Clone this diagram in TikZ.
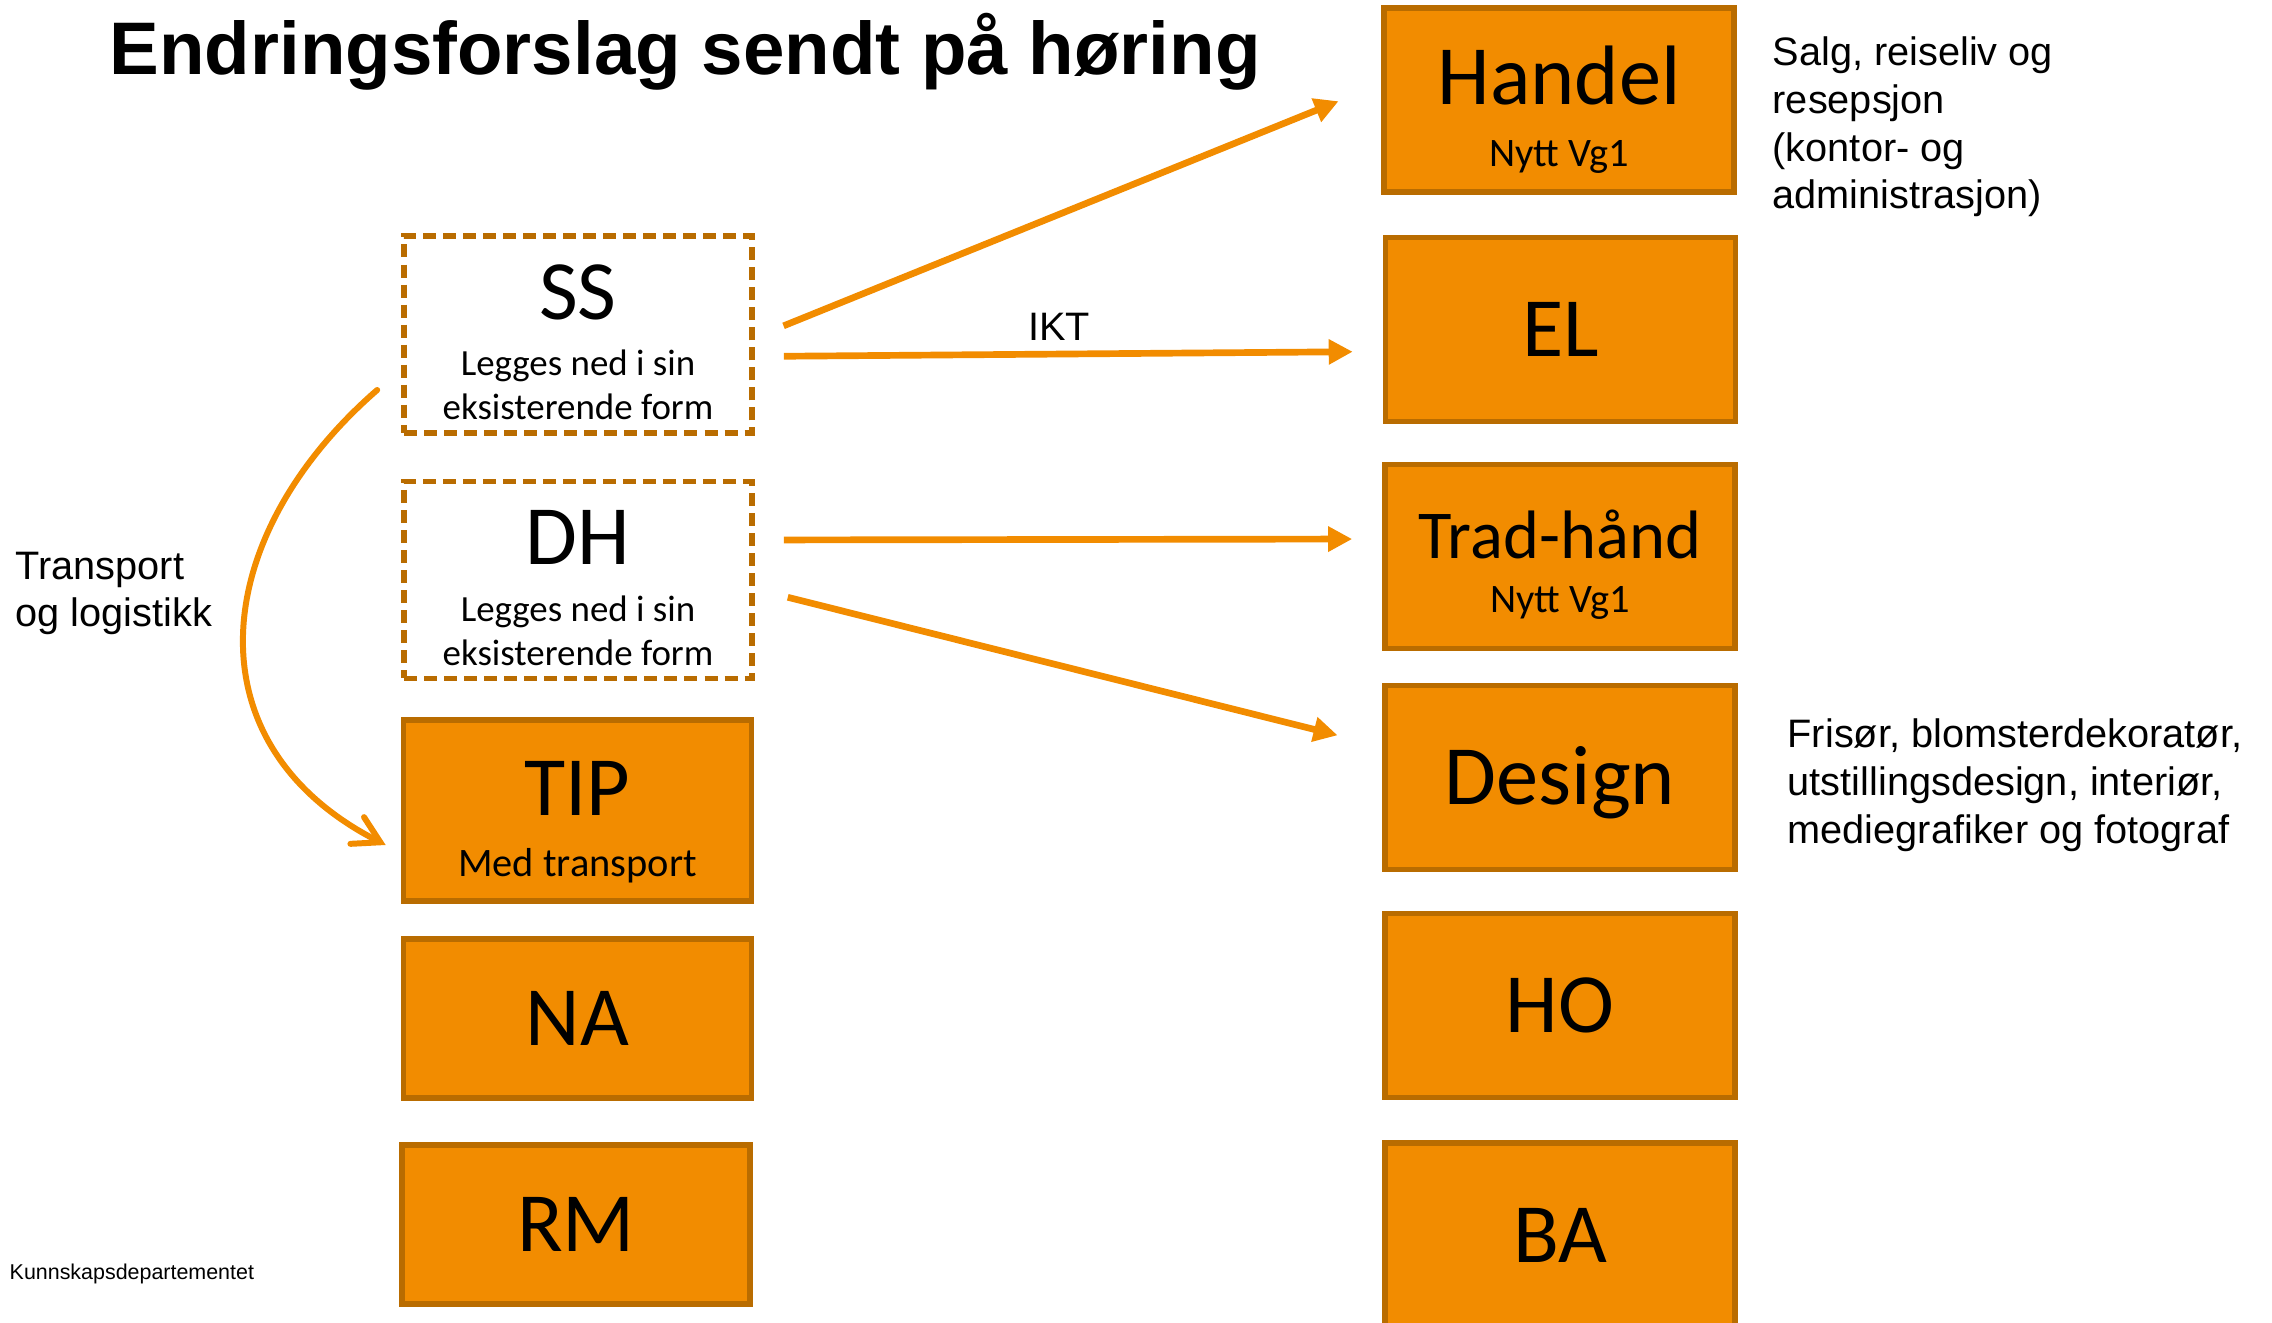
\documentclass[tikz,border=0pt]{standalone}
\usepackage{fontspec}
\setmainfont{Carlito}
\newfontfamily\arial{Liberation Sans}
\usetikzlibrary{arrows.meta}

\definecolor{oransje}{HTML}{F28C00}
\definecolor{kant}{HTML}{B96C00}

\newcommand{\storfont}{\fontsize{24}{28}\selectfont}
\newcommand{\smaafont}{\fontsize{11.5}{13.5}\selectfont}
\newcommand{\legfont}{\fontsize{10.5}{12.5}\selectfont}
\newcommand{\tekstfont}{\arial\fontsize{11.3}{13.6}\selectfont}

\begin{document}
\begin{tikzpicture}[
    boks/.style={draw=kant, line width=1.6pt, fill=oransje, minimum width=3.5cm, minimum height=1.84cm, inner sep=0pt, align=center, font=\storfont, text height=15.5pt, text depth=0pt},
    todelt/.style={font=\smaafont, text height=39pt, text depth=1.4pt},
    stiplet/.style={draw=kant, line width=1.6pt, dash pattern=on 3.7pt off 2pt, minimum width=3.48cm, minimum height=1.97cm, inner sep=0pt, align=center, font=\legfont, text height=50pt, text depth=1.4pt},
    pil/.style={draw=oransje, line width=1.9pt, -{Triangle[length=2.4mm, width=2.4mm]}},
    buepil/.style={draw=oransje, line width=1.7pt, line cap=round, -{Straight Barb[length=2.6mm, width=3mm, line cap=round]}},
    tekst/.style={font=\tekstfont, align=left, inner sep=0pt, anchor=north west}
]
    \useasboundingbox (0,0) rectangle (22.72,13.22);

    % Tittel
    \node[font=\arial\bfseries\fontsize{21.2}{25}\selectfont, anchor=base west, inner sep=0pt] (tittel) at (1.09,12.47) {Endringsforslag sendt på høring};

    % Venstre kolonne
    \node[stiplet] (ss) at (5.78,9.875) {{\storfont SS}\\[3.7pt]Legges ned i sin\\eksisterende form};
    \node[stiplet] (dh) at (5.78,7.42) {{\storfont DH}\\[3.7pt]Legges ned i sin\\eksisterende form};
    \node[boks, todelt, minimum width=3.48cm, minimum height=1.81cm] (tip) at (5.775,5.115) {{\storfont TIP}\\[4pt]Med transport};
    \node[boks, minimum width=3.48cm, minimum height=1.59cm] (na) at (5.775,3.035) {NA};
    \node[boks, minimum width=3.48cm, minimum height=1.59cm] (rm) at (5.76,0.975) {RM};

    % Høyre kolonne
    \node[boks, todelt] (handel) at (15.59,12.22) {{\storfont Handel}\\[4pt]Nytt Vg1};
    \node[boks] (el) at (15.605,9.925) {EL};
    \node[boks, todelt, text height=33.4pt] (trad) at (15.6,7.655) {{\fontsize{19.5}{23}\selectfont Trad-hånd}\\[2pt]Nytt Vg1};
    \node[boks] (design) at (15.6,5.445) {Design};
    \node[boks] (ho) at (15.6,3.165) {HO};
    \node[boks] (ba) at (15.6,0.87) {BA};

    % Forklaringer
    \node[tekst] (salg) at (17.72,12.86) {Salg, reiseliv og\\resepsjon\\(kontor- og\\administrasjon)};
    \node[tekst] (frisor) at (17.87,6.04) {Frisør, blomsterdekoratør,\\utstillingsdesign, interiør,\\mediegrafiker og fotograf};
    \node[tekst] (transport) at (0.15,7.71) {Transport\\og logistikk};
    \node[font=\arial\fontsize{6.1}{7}\selectfont, anchor=base west, inner sep=0pt] (kd) at (0.09,0.43) {Kunnskapsdepartementet};

    % Piler
    \draw[pil, shorten <=3.1mm, shorten >=4.6mm] ([yshift=-0.3mm]ss.east) -- ([yshift=1.6mm]handel.west);
    \draw[pil, shorten <=2.9mm, shorten >=3mm] ([yshift=-2.2mm]ss.east) -- node[pos=0.485, above=3pt, inner sep=0pt, font=\tekstfont] (ikt) {IKT} ([yshift=-2.2mm]el.west);
    \draw[pil, shorten <=2.9mm, shorten >=3mm] ([yshift=4mm]dh.east) -- ([yshift=1.75mm]trad.west);
    \draw[pil, shorten <=3.4mm, shorten >=4.6mm] ([yshift=-0.9mm]dh.east) -- ([yshift=3.1mm]design.west);
    \draw[buepil] ([shift={(-2.4mm,-5.55mm)}]ss.west) to[out=221, in=153, looseness=1.25] ([shift={(-1.5mm,-3.45mm)}]tip.west);
\end{tikzpicture}
\end{document}
